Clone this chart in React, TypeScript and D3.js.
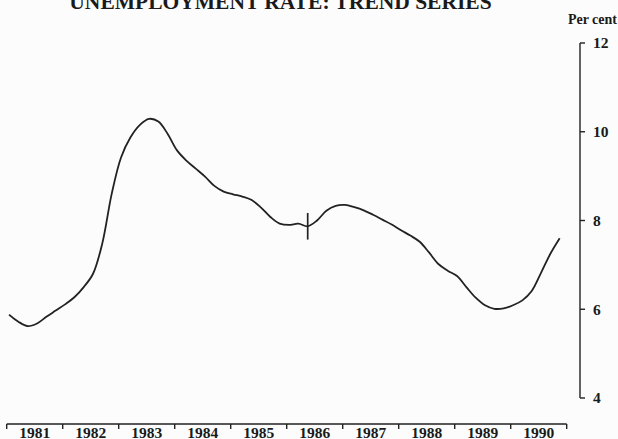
import * as d3 from "d3";

// bi-monthly trend values (per cent)
const months = ["01", "03", "05", "07", "09", "11"];
const years = ["1981", "1982", "1983", "1984", "1985", "1986", "1987", "1988", "1989", "1990"];
const rates1981 = [5.88, 5.72, 5.62, 5.68, 5.83, 5.97];
const rates1982 = [6.11, 6.27, 6.5, 6.8, 7.49, 8.6];
const rates1983 = [9.42, 9.87, 10.15, 10.29, 10.23, 9.95];
const rates1984 = [9.58, 9.35, 9.17, 8.99, 8.78, 8.65];
const rates1985 = [8.59, 8.54, 8.46, 8.29, 8.08, 7.93];
const rates1986 = [7.9, 7.93, 7.87, 8.0, 8.22, 8.33];
const rates1987 = [8.35, 8.3, 8.23, 8.13, 8.02, 7.91];
const rates1988 = [7.78, 7.66, 7.52, 7.28, 7.02, 6.87];
const rates1989 = [6.75, 6.5, 6.26, 6.09, 6.01, 6.02];
const rates1990 = [6.09, 6.2, 6.41, 6.82, 7.25, 7.6];
const yTicks = [4, 6, 8, 10, 12];
const breakDate = "1986-05"; // series break

const allRates = [
  rates1981, rates1982, rates1983, rates1984, rates1985,
  rates1986, rates1987, rates1988, rates1989, rates1990,
];

const toYear = (d: string) => {
  const [y, m] = d.split("-").map(Number);
  return y + (m - 0.5) / 12;
};

const data = allRates.flatMap((row, i) =>
  row.map((v, j) => ({ date: `${years[i]}-${months[j]}`, value: v }))
);

const W = 618;
const H = 439;
const font = "'Liberation Serif', 'Times New Roman', serif";

export default function App() {
  const x = d3.scaleLinear().domain([1981, 1991]).range([6.7, 566.7]);
  const y = d3.scaleLinear().domain([4, 12]).range([398, 43]);
  const axisX = 580;
  const axisY = 424;

  const line = d3
    .line<{ date: string; value: number }>()
    .x((d) => x(toYear(d.date)))
    .y((d) => y(d.value))
    .curve(d3.curveCatmullRom.alpha(0.5));

  const brk = data.find((d) => d.date === breakDate)!;
  const bx = x(toYear(brk.date));

  const yearBounds = d3.range(1981, 1992);

  return (
    <svg
      width={W}
      height={H}
      style={{ position: "absolute", left: 0, top: 0, background: "#fcfcfc" }}
    >
      <text
        x={280.5}
        y={8.5}
        textAnchor="middle"
        fontFamily={font}
        fontWeight="bold"
        fontSize={21.5}
        fill="#1a1a1a"
      >
        UNEMPLOYMENT RATE: TREND SERIES
      </text>

      {/* right axis */}
      <text x={617} y={24} textAnchor="end" fontFamily={font} fontWeight="bold" fontSize={14} fill="#1a1a1a">
        Per cent
      </text>
      <line x1={axisX} x2={axisX} y1={y(12)} y2={y(4)} stroke="#222" strokeWidth={1.4} />
      {yTicks.map((t) => (
        <g key={t}>
          <line x1={axisX} x2={axisX + 5} y1={y(t)} y2={y(t)} stroke="#222" strokeWidth={1.4} />
          <text
            x={593}
            y={y(t)}
            dy="0.35em"
            fontFamily={font}
            fontWeight="bold"
            fontSize={15.5}
            fill="#1a1a1a"
          >
            {t}
          </text>
        </g>
      ))}

      {/* bottom axis */}
      <line x1={x(1981)} x2={x(1991)} y1={axisY} y2={axisY} stroke="#222" strokeWidth={1.4} />
      {yearBounds.map((b) => (
        <line key={b} x1={x(b)} x2={x(b)} y1={axisY} y2={axisY + 5} stroke="#222" strokeWidth={1.4} />
      ))}
      {years.map((yr) => (
        <text
          key={yr}
          x={x(+yr + 0.5)}
          y={437.5}
          textAnchor="middle"
          fontFamily={font}
          fontWeight="bold"
          fontSize={15.5}
          fill="#1a1a1a"
        >
          {yr}
        </text>
      ))}

      {/* trend line */}
      <path d={line(data) ?? ""} fill="none" stroke="#222" strokeWidth={1.8} strokeLinejoin="round" />
      <line
        x1={bx}
        x2={bx}
        y1={y(brk.value + 0.3)}
        y2={y(brk.value - 0.3)}
        stroke="#222"
        strokeWidth={1.7}
      />
    </svg>
  );
}
